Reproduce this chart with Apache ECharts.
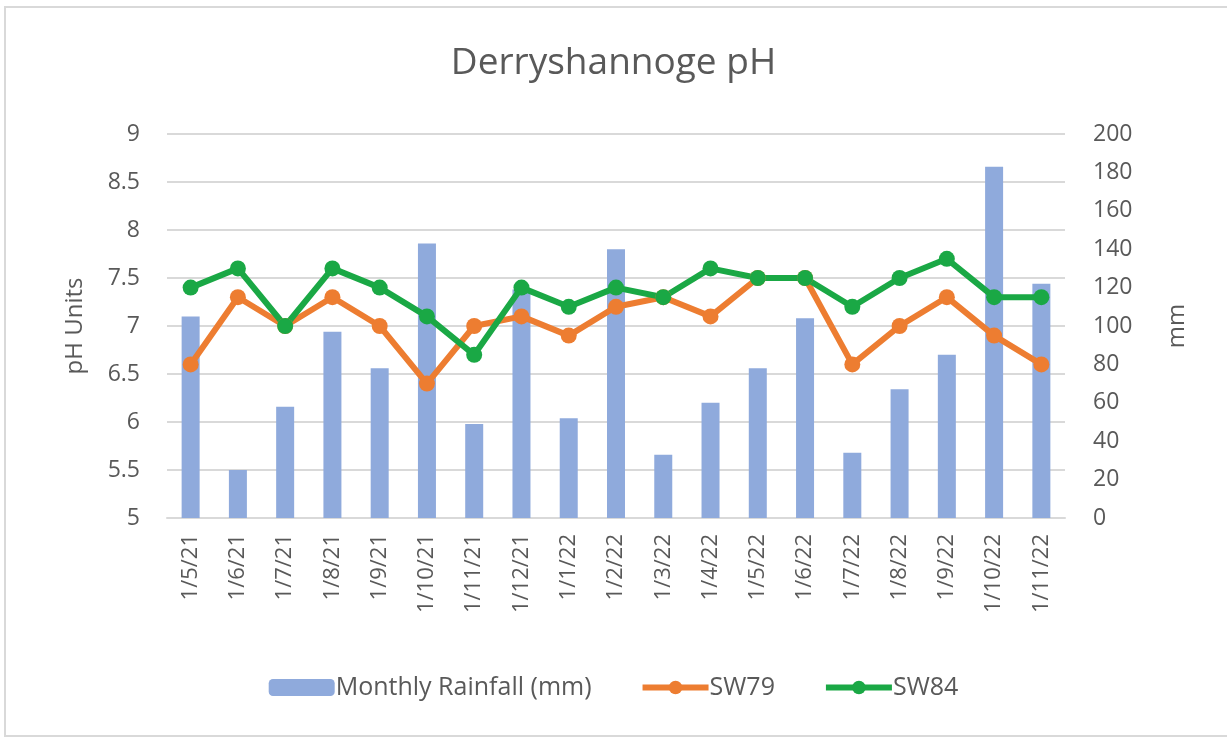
<!DOCTYPE html>
<html>
<head>
<meta charset="utf-8">
<script src="https://cdn.jsdelivr.net/npm/echarts@6/dist/echarts.min.js"></script>
<style>
  html, body { margin: 0; padding: 0; background: #fff; }
  #chart { width: 1227px; height: 738px; }
</style>
</head>
<body>
<div id="chart"></div>
<script>
const months = ['1/5/21', '1/6/21', '1/7/21', '1/8/21', '1/9/21', '1/10/21', '1/11/21', '1/12/21',
  '1/1/22', '1/2/22', '1/3/22', '1/4/22', '1/5/22', '1/6/22', '1/7/22', '1/8/22', '1/9/22', '1/10/22', '1/11/22']
const rainfall = [105, 25, 58, 97, 78, 143, 49, 119, 52, 140, 33, 60, 78, 104, 34, 67, 85, 183, 122]
const sw79 = [6.6, 7.3, 7.0, 7.3, 7.0, 6.4, 7.0, 7.1, 6.9, 7.2, 7.3, 7.1, 7.5, 7.5, 6.6, 7.0, 7.3, 6.9, 6.6]
const sw84 = [7.4, 7.6, 7.0, 7.6, 7.4, 7.1, 6.7, 7.4, 7.2, 7.4, 7.3, 7.6, 7.5, 7.5, 7.2, 7.5, 7.7, 7.3, 7.3]

const textColor = '#595959'
const font = '"Open Sans", "Noto Sans", sans-serif'

const chart = echarts.init(document.getElementById('chart'))
chart.setOption({
  animation: false,
  textStyle: { fontFamily: font },
  graphic: [{
    type: 'rect',
    shape: { x: 5, y: 7, width: 1240, height: 729 },
    style: { fill: 'none', stroke: '#d9d9d9', lineWidth: 2 },
    silent: true
  }],
  title: {
    text: 'Derryshannoge pH',
    left: 'center',
    top: 40,
    textStyle: { fontFamily: font, fontSize: 37, fontWeight: 'normal', color: textColor }
  },
  legend: {
    bottom: 33,
    left: 'center',
    itemWidth: 66,
    itemHeight: 17,
    itemGap: 48,
    lineStyle: { width: 6 },
    textStyle: { fontFamily: font, fontSize: 25, color: textColor, padding: [0, 0, 0, -4] },
    data: ['Monthly Rainfall (mm)', 'SW79', 'SW84']
  },
  grid: { left: 167, right: 162, top: 134, bottom: 220 },
  xAxis: {
    type: 'category',
    data: months,
    axisLine: { lineStyle: { color: '#d9d9d9', width: 2 } },
    axisTick: { show: false },
    axisLabel: { rotate: 90, fontSize: 22, color: textColor, margin: 16, fontFamily: font }
  },
  yAxis: [{
    type: 'value',
    min: 5,
    max: 9,
    interval: 0.5,
    name: 'pH Units',
    nameLocation: 'middle',
    nameGap: 80,
    nameTextStyle: { fontSize: 24, color: textColor, fontFamily: font },
    axisLine: { show: false },
    axisTick: { show: false },
    axisLabel: { fontSize: 23, color: textColor, margin: 27, fontFamily: font },
    splitLine: { lineStyle: { color: '#d9d9d9', width: 2 } }
  }, {
    type: 'value',
    min: 0,
    max: 200,
    interval: 20,
    name: 'mm',
    nameLocation: 'middle',
    nameGap: 100,
    nameRotate: 90,
    nameTextStyle: { fontSize: 24, color: textColor, fontFamily: font },
    axisLine: { show: false },
    axisTick: { show: false },
    axisLabel: { fontSize: 23, color: textColor, margin: 28, fontFamily: font },
    splitLine: { show: false }
  }],
  series: [{
    name: 'Monthly Rainfall (mm)',
    type: 'bar',
    yAxisIndex: 1,
    data: rainfall,
    barWidth: 18,
    itemStyle: { color: '#8faadc' }
  }, {
    name: 'SW79',
    type: 'line',
    data: sw79,
    symbol: 'circle',
    symbolSize: 16,
    lineStyle: { color: '#ed7d31', width: 6 },
    itemStyle: { color: '#ed7d31' }
  }, {
    name: 'SW84',
    type: 'line',
    data: sw84,
    symbol: 'circle',
    symbolSize: 16,
    lineStyle: { color: '#1aa845', width: 6 },
    itemStyle: { color: '#1aa845' }
  }]
})
</script>
</body>
</html>
